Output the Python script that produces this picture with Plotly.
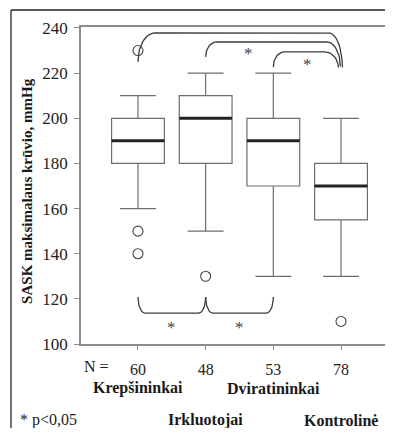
import numpy as np
import plotly.graph_objects as go

# ---------------- data ----------------
groups = ["Krepšininkai", "Irkluotojai", "Dviratininkai", "Kontrolinė"]
n_values = ["60", "48", "53", "78"]
q1 = [180, 180, 170, 155]
median = [190, 200, 190, 170]
q3 = [200, 210, 200, 180]
lower_whisker = [160, 150, 130, 130]
upper_whisker = [210, 220, 220, 200]
outliers = [[230, 150, 140], [130], [], [110]]
y_ticks = [100, 120, 140, 160, 180, 200, 220, 240]

# significance brackets (group index a, group index b)
top_pairs = [(0, 3), (1, 3), (2, 3)]
top_levels = [237.8, 233.8, 229.4]      # bracket heights (mmHg)
top_left_end = [225.0, 227.2, 222.7]
top_right_end = [222.5, 223.0, 222.5]
bottom_pairs = [(0, 1), (1, 2)]
bottom_level = 113.7
bottom_end = 120.8

# ---------------- style ----------------
SERIF = "Liberation Serif, Times New Roman, serif"
BOX_W = 0.78
AX_COL = "#8c8c8c"
BOX_COL = "#6e6e6e"
BR_COL = "#3c3c3c"
PW = 304.0   # plot-area width in px
PH = 317.0   # plot-area height in px
FIG_H = 420
BOT = FIG_H - 19 - int(PH)

xpos = [i + 1 for i in range(len(groups))]

fig = go.Figure()

fig.add_trace(go.Box(
    x=xpos, q1=q1, median=median, q3=q3,
    lowerfence=lower_whisker, upperfence=upper_whisker,
    width=BOX_W, whiskerwidth=0.68, boxpoints=False,
    fillcolor="white", line=dict(color=BOX_COL, width=1.2),
    hoverinfo="skip", showlegend=False,
))

# thick medians
mx, my = [], []
for x, m in zip(xpos, median):
    mx += [x - BOX_W / 2, x + BOX_W / 2, None]
    my += [m, m, None]
fig.add_trace(go.Scatter(x=mx, y=my, mode="lines",
                         line=dict(color="#222222", width=3),
                         hoverinfo="skip", showlegend=False))

# outliers
ox, oy = [], []
for x, vals in zip(xpos, outliers):
    for v in vals:
        ox.append(x)
        oy.append(v)
fig.add_trace(go.Scatter(x=ox, y=oy, mode="markers",
                         marker=dict(symbol="circle-open", size=10,
                                     color="#444444", line=dict(width=1.1)),
                         hoverinfo="skip", showlegend=False))


def arc(cx, cy, rx, ry, t0, t1, n=14):
    t = np.linspace(t0, t1, n)
    return list(cx + rx * np.cos(t)), list(cy + ry * np.sin(t))


# top brackets
for k, (a, b) in enumerate(top_pairs):
    xa, xb = xpos[a], xpos[b] + [0.02, -0.01, -0.04][k]
    yt = top_levels[k]
    ya, yb = top_left_end[k], top_right_end[k]
    rxl = [0.25, 0.16, 0.16][k]
    rxr = 0.2
    x1, y1 = arc(xa + rxl, ya, rxl, yt - ya, np.pi, np.pi / 2)
    x2, y2 = arc(xb - rxr, yb, rxr, yt - yb, np.pi / 2, 0)
    fig.add_trace(go.Scatter(x=x1 + x2, y=y1 + y2, mode="lines",
                             line=dict(color=BR_COL, width=1.3),
                             hoverinfo="skip", showlegend=False))

# bottom curly brace
rx = 0.1
bx, by = [], []
for (a, b) in bottom_pairs:
    xa, xb = xpos[a], xpos[b]
    x1, y1 = arc(xa + rx, bottom_end, rx, bottom_end - bottom_level, np.pi, 1.5 * np.pi)
    x2, y2 = arc(xb - rx, bottom_end, rx, bottom_end - bottom_level, 1.5 * np.pi, 2 * np.pi)
    bx += x1 + x2 + [None]
    by += y1 + y2 + [None]
fig.add_trace(go.Scatter(x=bx, y=by, mode="lines",
                         line=dict(color=BR_COL, width=1.3),
                         hoverinfo="skip", showlegend=False))

annotations = []
# asterisks
star_pos = [(2.63, 230.3), (3.5, 225.8)]
for (a, b) in bottom_pairs:
    star_pos.append(((xpos[a] + xpos[b]) / 2, 109.3))
for sx, sy in star_pos:
    annotations.append(dict(x=sx, y=sy, xref="x", yref="y", text="*",
                            showarrow=False, yshift=-4,
                            font=dict(family=SERIF, size=17, color="#444")))


def px_x(p):  # screen px offset from plot-left -> paper fraction
    return p / PW


def px_y(p):  # screen px below plot-bottom -> paper fraction
    return -p / PH


# category labels (two rows)
for i, g in enumerate(groups):
    annotations.append(dict(x=xpos[i], y=px_y(44) if i % 2 == 0 else px_y(76),
                            xref="x", yref="paper", text=f"<b>{g}</b>",
                            showarrow=False, yanchor="middle",
                            font=dict(family=SERIF, size=16, color="#1a1a1a")))
annotations.append(dict(x=px_x(1), y=px_y(22), xref="paper", yref="paper", text="N =",
                        showarrow=False, yanchor="middle",
                        font=dict(family=SERIF, size=16, color="#222")))
annotations.append(dict(x=px_x(-63), y=px_y(76), xref="paper", yref="paper", text="* p<0,05",
                        showarrow=False, xanchor="left", yanchor="middle",
                        font=dict(family=SERIF, size=16, color="#222")))
annotations.append(dict(x=px_x(-54), y=0.483, xref="paper", yref="paper",
                        text="<b>SASK maksimalaus krūvio, mmHg</b>", textangle=-90,
                        showarrow=False, xanchor="center", yanchor="middle",
                        font=dict(family=SERIF, size=15, color="#1a1a1a")))

shapes = [
    dict(type="line", xref="paper", yref="paper", x0=px_x(-70), x1=px_x(-70),
         y0=1 + 17 / PH, y1=px_y(BOT), line=dict(color="#444", width=1.5), layer="above"),
    dict(type="line", xref="paper", yref="paper", x0=px_x(-70), x1=1.0,
         y0=1 + 17 / PH, y1=1 + 17 / PH, line=dict(color="#222", width=1.5), layer="above"),
]

# the page body adds an 8px offset; the figure is sized so it fits the window
fig.update_layout(
    width=377, height=FIG_H,
    margin=dict(l=73, r=0, t=19, b=BOT, pad=0),
    paper_bgcolor="white", plot_bgcolor="white",
    showlegend=False,
    annotations=annotations, shapes=shapes,
    xaxis=dict(range=[0.158, 4.650], tickvals=xpos, ticktext=n_values,
               showgrid=False, zeroline=False, showline=True, mirror=True,
               linecolor=AX_COL, linewidth=1.5, ticks="outside", ticklen=4,
               tickcolor=AX_COL, tickwidth=1.2, ticklabelstandoff=6,
               tickfont=dict(family=SERIF, size=16, color="#222")),
    yaxis=dict(range=[100, 240.44], tickvals=y_ticks,
               showgrid=False, zeroline=False, showline=True,
               linecolor=AX_COL, linewidth=1.5, ticks="outside", ticklen=5,
               tickcolor=AX_COL, tickwidth=1.2, ticklabelstandoff=3,
               tickfont=dict(family=SERIF, size=17, color="#222")),
)

fig.write_html("out.html")
